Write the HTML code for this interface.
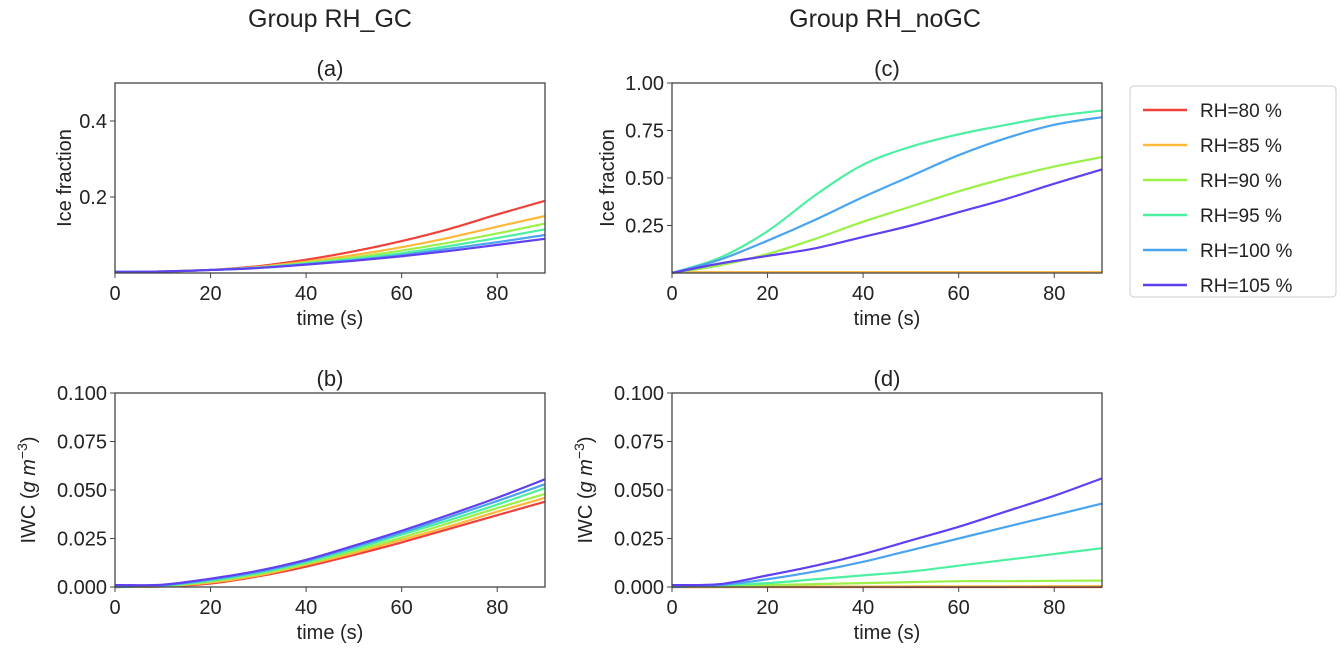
<!DOCTYPE html>
<html><head><meta charset="utf-8"><style>
body{margin:0;background:#fff;}
svg{display:block;font-family:"Liberation Sans","DejaVu Sans",sans-serif;}
</style></head><body>
<svg id="fig" width="1340" height="651" viewBox="0 0 1340 651">
<text x="330" y="27" font-size="25" text-anchor="middle" fill="#222">Group RH_GC</text>
<text x="885" y="27" font-size="25" text-anchor="middle" fill="#222">Group RH_noGC</text>
<g id="legend"></g>
</svg>
<script>
const times=[0,10,20,30,40,50,60,70,80,90];
const labels=["RH=80 %","RH=85 %","RH=90 %","RH=95 %","RH=100 %","RH=105 %"];
const colors=["#f0403a","#ffb83a","#9cf04a","#4cf0a0","#4aa4f0","#6040f0"];
// (a) ice fraction, RH_GC
const a80=[0.003,0.004,0.008,0.018,0.035,0.057,0.084,0.116,0.154,0.19];
const a85=[0.003,0.004,0.008,0.016,0.030,0.047,0.068,0.093,0.122,0.15];
const a90=[0.003,0.004,0.008,0.015,0.027,0.041,0.059,0.080,0.104,0.13];
const a95=[0.003,0.004,0.008,0.014,0.025,0.037,0.052,0.071,0.092,0.115];
const a100=[0.003,0.004,0.008,0.014,0.023,0.034,0.047,0.064,0.081,0.10];
const a105=[0.003,0.004,0.008,0.013,0.022,0.032,0.044,0.058,0.074,0.09];
// (c) ice fraction, RH_noGC
const c80=[0.003,0.003,0.003,0.003,0.003,0.003,0.003,0.003,0.003,0.003];
const c85=[0.004,0.004,0.004,0.004,0.004,0.004,0.004,0.004,0.004,0.004];
const c90=[0,0.04,0.10,0.18,0.27,0.35,0.43,0.50,0.56,0.61];
const c95=[0,0.08,0.22,0.41,0.57,0.665,0.73,0.78,0.825,0.855];
const c100=[0,0.07,0.17,0.28,0.40,0.51,0.62,0.71,0.78,0.82];
const c105=[0,0.05,0.09,0.13,0.19,0.25,0.32,0.39,0.47,0.545];
// (b) IWC, RH_GC
const b80=[0,0.0003,0.0018,0.0055,0.0105,0.0165,0.023,0.030,0.037,0.044];
const b85=[0,0.0004,0.0023,0.006,0.0115,0.0175,0.0243,0.0313,0.0388,0.046];
const b90=[0,0.0005,0.0028,0.0066,0.012,0.0185,0.0255,0.033,0.0407,0.048];
const b95=[0,0.0007,0.0033,0.0072,0.0127,0.0195,0.027,0.0345,0.0425,0.051];
const b100=[0,0.0009,0.0038,0.0078,0.0134,0.0205,0.028,0.036,0.0443,0.053];
const b105=[0.001,0.0012,0.0043,0.0084,0.014,0.0213,0.029,0.0373,0.046,0.0555];
// (d) IWC, RH_noGC
const d80=[0,0,0,0,0,0,0,0,0,0];
const d85=[0,0,0.0001,0.0002,0.0002,0.0003,0.0003,0.0003,0.0004,0.0004];
const d90=[0,0.0005,0.001,0.0015,0.002,0.0025,0.003,0.003,0.0032,0.0033];
const d95=[0,0.001,0.002,0.004,0.006,0.008,0.011,0.014,0.017,0.020];
const d100=[0,0.001,0.004,0.008,0.013,0.019,0.025,0.031,0.037,0.043];
const d105=[0.001,0.0015,0.006,0.011,0.017,0.024,0.031,0.039,0.047,0.056];
const xTicks=[0,20,40,60,80];
const iceTicksA=[0.2,0.4];
const iceTicksC=[0.25,0.5,0.75,1.0];
const iwcTicks=[0,0.025,0.05,0.075,0.1];

const NS="http://www.w3.org/2000/svg";
const svg=document.getElementById('fig');
function mk(tag,attrs,parent){const e=document.createElementNS(NS,tag);for(const k in attrs)e.setAttribute(k,attrs[k]);(parent||svg).appendChild(e);return e;}
function smooth(pts){
  let d='M'+pts[0][0]+','+pts[0][1];
  for(let i=0;i<pts.length-1;i++){
    const p0=pts[Math.max(0,i-1)],p1=pts[i],p2=pts[i+1],p3=pts[Math.min(pts.length-1,i+2)];
    const c1x=p1[0]+(p2[0]-p0[0])/6,c1y=p1[1]+(p2[1]-p0[1])/6;
    const c2x=p2[0]-(p3[0]-p1[0])/6,c2y=p2[1]-(p3[1]-p1[1])/6;
    d+=` C${c1x},${c1y} ${c2x},${c2y} ${p2[0]},${p2[1]}`;
  }
  return d;
}
function panel(id,x0,y0,w,h,ymax,yTicks,yFmt,title,ylabel,yOff,series){
  const g=mk('g',{});
  
  
  const sx=t=>x0+t/90*w, sy=v=>y0+h-v/ymax*h;
  series.forEach((s,i)=>{
    const p=mk('path',{d:smooth(times.map((t,j)=>[sx(t),sy(s[j])])),fill:'none',stroke:colors[i],'stroke-width':2.2,'stroke-linejoin':'round'},g);
    
    
  });
  const fr=mk('rect',{x:x0,y:y0,width:w,height:h,fill:'none',stroke:'#444','stroke-width':1.3},g);
  
  
  xTicks.forEach(t=>{
    mk('line',{x1:sx(t),x2:sx(t),y1:y0+h,y2:y0+h+5,stroke:'#444'},g);
    const tx=mk('text',{x:sx(t),y:y0+h+27,'font-size':20,'text-anchor':'middle',fill:'#222'},g);
    tx.textContent=t;
    
    
  });
  yTicks.forEach(v=>{
    mk('line',{x1:x0-5,x2:x0,y1:sy(v),y2:sy(v),stroke:'#444'},g);
    const tx=mk('text',{x:x0-8,y:sy(v)+7,'font-size':20,'text-anchor':'end',fill:'#222'},g);
    tx.textContent=yFmt(v);
    
    
  });
  const tt=mk('text',{x:x0+w/2,y:y0-7,'font-size':22,'text-anchor':'middle',fill:'#222'},g);
  tt.textContent=title;
  
  
  const xl=mk('text',{x:x0+w/2,y:y0+h+52,'font-size':20,'text-anchor':'middle',fill:'#222'},g);
  xl.textContent='time (s)';
  
  
  const yl=mk('text',{x:0,y:0,'font-size':20,'text-anchor':'middle',fill:'#222',transform:`translate(${x0-yOff},${y0+h/2}) rotate(-90)`},g);
  
  
  if(ylabel==='ice'){yl.textContent='Ice fraction';}
  else{yl.innerHTML='IWC (<tspan font-style="italic">g m</tspan><tspan dy="-8" font-size="14">−3</tspan><tspan dy="8">)</tspan>';}
}
panel('a',115,83,430,190,0.5,iceTicksA,v=>v.toFixed(1),'(a)','ice',44,[a80,a85,a90,a95,a100,a105]);
panel('c',672,83,430,190,1.0,iceTicksC,v=>v.toFixed(2),'(c)','ice',58,[c80,c85,c90,c95,c100,c105]);
panel('b',115,393,430,194,0.1,iwcTicks,v=>v.toFixed(3),'(b)','iwc',80,[b80,b85,b90,b95,b100,b105]);
panel('d',672,393,430,194,0.1,iwcTicks,v=>v.toFixed(3),'(d)','iwc',80,[d80,d85,d90,d95,d100,d105]);

const lg=document.getElementById('legend');
mk('rect',{x:1130,y:86,width:206,height:211,rx:4,fill:'#fff',stroke:'#ccc'},lg);
labels.forEach((l,i)=>{
  const y=110+i*35;
  const ln=mk('line',{x1:1143,x2:1187,y1:y,y2:y,stroke:colors[i],'stroke-width':2.4},lg);
  
  
  const t=mk('text',{x:1200,y:y+7,'font-size':19,fill:'#222'},lg);
  t.textContent=l;
  
  
});
</script>
</body></html>
